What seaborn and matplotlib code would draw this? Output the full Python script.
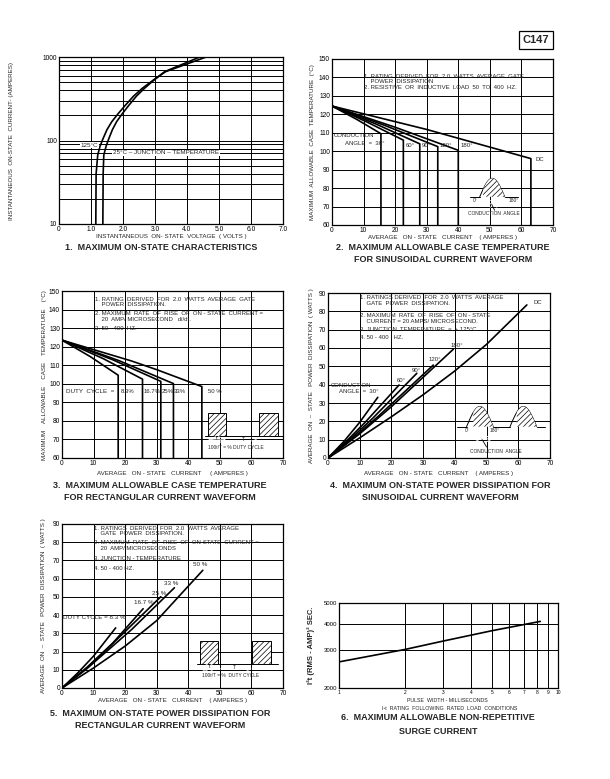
import numpy as np
import pandas as pd
import seaborn as sns
import matplotlib.pyplot as plt
from matplotlib.patches import Rectangle

sns.set_theme(style="white")
plt.rcParams['font.family'] = ['Liberation Sans', 'DejaVu Sans']
plt.rcParams['hatch.linewidth'] = 0.5

# ---- chart 1: on-state characteristics (volts vs amperes, log) ----
c1_amps = [10, 40, 67, 85, 106, 135, 168, 210, 266, 340, 421, 530, 667, 1000]
c1_v125 = [1.15, 1.16, 1.21, 1.28, 1.38, 1.50, 1.65, 1.85, 2.08, 2.33, 2.60, 2.95, 3.33, 4.60]
c1_v25 = [1.37, 1.38, 1.40, 1.47, 1.56, 1.67, 1.80, 1.98, 2.19, 2.42, 2.67, 2.97, 3.30, 4.40]
c1_minor = [20, 30, 40, 50, 60, 70, 80, 90, 200, 300, 400, 500, 600, 700, 800, 900]

# ---- chart 2: case temp, sinusoidal ----
c2_labels = ['30°', '60°', '90°', '120°', '180°', 'DC']
c2_x = [[0, 8, 15.5, 15.5], [0, 11, 22.6, 22.6], [0, 14, 27.8, 27.8],
        [0, 17, 33.5, 33.5], [0, 20, 40.0, 40.0], [0, 30, 63.0, 63.0]]
c2_t = [[124.5, 117.1, 109.5, 60], [124.5, 115.9, 106.0, 60], [124.5, 114.7, 104.0, 60],
        [124.5, 113.8, 102.5, 60], [124.5, 113.0, 100.5, 60], [124.5, 111.8, 96.0, 60]]

# ---- chart 3: case temp, rectangular ----
c3_labels = ['8.3%', '16.7%', '25%', '33%', '50 %']
c3_x = [[0, 9, 17.8, 17.8], [0, 13, 25.5, 25.5], [0, 16, 31.3, 31.3],
        [0, 18, 35.3, 35.3], [0, 22, 30, 44.3, 44.3]]
c3_t = [[123.5, 114.6, 104.6, 60], [123.5, 113.6, 102.5, 60], [123.5, 113.0, 101.3, 60],
        [123.5, 112.5, 100.1, 60], [123.5, 112.3, 107.6, 98.5, 60]]

# ---- chart 4: power dissipation, sinusoidal ----
c4_x = [[0, 5, 10, 15.7], [0, 6, 12, 22.4], [0, 7, 14, 28.0],
        [0, 8, 16, 33.2], [0, 10, 20, 39.5], [0, 10, 20, 30, 40, 50, 62.7]]
c4_p = [[0, 9, 19.5, 33.1], [0, 9.5, 20, 39.8], [0, 10.3, 21.5, 46.2],
        [0, 11, 23, 50.7], [0, 13.2, 28, 59.3], [0, 11, 22.5, 34.5, 47.5, 62, 83.5]]

# ---- chart 5: power dissipation, rectangular ----
c5_x = [[0, 5, 10, 17.0], [0, 8, 16, 25.7], [0, 8, 20, 31.3],
        [0, 8, 22, 35.6], [0, 10, 20, 30, 44.6]]
c5_p = [[0, 8.3, 17.5, 33.0], [0, 11.5, 24.5, 43.5], [0, 11, 31, 50.1],
        [0, 10.8, 32, 55.0], [0, 11, 23, 37, 64.6]]

# ---- chart 6: I2t vs pulse width ----
c6_ms = [1, 2, 3, 5, 8.3]
c6_i2t = [2650, 3030, 3320, 3710, 4100]

W, H = 610, 779
fig = plt.figure(figsize=(W / 100, H / 100), dpi=100)
fig.patch.set_facecolor('white')


def add_ax(l, t, r, b):
    return fig.add_axes([l / W, 1 - b / H, (r - l) / W, (b - t) / H])


def style(ax):
    ax.grid(True, which='both', color='black', lw=0.7)
    ax.tick_params(which='both', length=0, labelsize=4.8, pad=1.5, colors='black')
    for s in ax.spines.values():
        s.set_color('black')
        s.set_linewidth(0.9)
    ax.set_facecolor('white')


def curve(ax, xs, ys, lw=1.2):
    sns.lineplot(x=xs, y=ys, sort=False, estimator=None, color='black', lw=lw, ax=ax)


def note(ax, x, y, s):
    ax.text(x, y, s, fontsize=4.3, va='top', ha='left', linespacing=1.1, zorder=5)


def title(x, y, s):
    fig.text(x / W, 1 - y / H, s, fontsize=6.5, fontweight='bold', ha='center', va='center')


def ylab(x, y, s):
    fig.text(x / W, 1 - y / H, s, fontsize=4.5, rotation=90, ha='center', va='center')


# chart 1
ax1 = add_ax(59, 57, 283, 224)
ax1.set_yscale('log')
curve(ax1, c1_v125, c1_amps)
curve(ax1, c1_v25, c1_amps)
ax1.set_xlim(0, 7)
ax1.set_ylim(10, 1000)
ax1.set_xticks(range(8))
ax1.set_xticklabels(['0', '1.0', '2.0', '3.0', '4.0', '5.0', '6.0', '7.0'])
ax1.set_yticks([10, 100, 1000])
ax1.set_yticklabels(['10', '100', '1000'])
ax1.set_yticks(c1_minor, minor=True)
ax1.set_yticklabels([], minor=True)
style(ax1)
ax1.set_xlabel('INSTANTANEOUS  ON- STATE  VOLTAGE  ( VOLTS )', fontsize=4.5, labelpad=0.5)
ax1.text(1.22, 88, '125°C', fontsize=4.5, ha='right', va='center',
         bbox=dict(facecolor='white', edgecolor='none', pad=0.6), zorder=5)
ax1.plot([1.45, 4.9], [71, 71], color='black', lw=0.7)
ax1.text(1.69, 71, '25°C – JUNCTION – TEMPERATURE', fontsize=4.5, ha='left', va='center',
         bbox=dict(facecolor='white', edgecolor='none', pad=0.6), zorder=5)
ylab(12, 141, 'INSTANTANEOUS  ON-STATE  CURRENT- (AMPERES)')
title(161, 248, '1.  MAXIMUM ON-STATE CHARACTERISTICS')

# chart 2
ax2 = add_ax(332, 59, 553, 225)
for xs, ts in zip(c2_x, c2_t):
    curve(ax2, xs, ts)
ax2.set_xlim(0, 70)
ax2.set_ylim(60, 150)
ax2.set_xticks(range(0, 71, 10))
ax2.set_yticks(range(60, 151, 10))
style(ax2)
ax2.set_xlabel('AVERAGE   ON - STATE   CURRENT    ( AMPERES )', fontsize=4.5, labelpad=0.5)
note(ax2, 10, 142, '1. RATING  DERIVED  FOR  2.0  WATTS  AVERAGE  GATE\n'
                   '    POWER  DISSIPATION\n'
                   '2. RESISTIVE  OR  INDUCTIVE  LOAD  50  TO  400  HZ.')
ax2.text(0.5, 108.6, 'CONDUCTION', fontsize=4.3, va='center')
ax2.text(4.2, 104.0, 'ANGLE  =  30°', fontsize=4.3, va='center')
for lab, x in zip(c2_labels[1:5], [23.3, 28.4, 34.0, 40.6]):
    ax2.text(x, 103.2, lab, fontsize=4.3, va='center')
ax2.text(64.3, 95.3, 'DC', fontsize=4.3, va='center')
# waveform sketch
th = np.linspace(0, np.pi, 60)
hx = 46.8 + (54.7 - 46.8) * th / np.pi
hy = 75.3 + 10 * np.sin(th)
ax2.plot([43.7, 46.8], [75.3, 75.3], color='black', lw=0.7)
ax2.plot([54.7, 59.0], [75.3, 75.3], color='black', lw=0.7)
ax2.plot(hx, hy, color='black', lw=0.7)
m = hx >= 47.8
ax2.fill_between(hx[m], 75.3, hy[m], facecolor='white', edgecolor='black', hatch='//////', lw=0, zorder=3)
ax2.text(45.3, 73.4, '0°', fontsize=3.5, ha='center', va='center')
ax2.text(57.6, 73.4, '180°', fontsize=3.5, ha='center', va='center')
ax2.annotate('', xy=(47.8, 71.5), xytext=(54.5, 71.5),
             arrowprops=dict(arrowstyle='<->', lw=0.6, shrinkA=0, shrinkB=0))
ax2.plot([50.5, 51.5], [71.5, 68.0], color='black', lw=0.6)
ax2.text(51.4, 66.3, 'CONDUCTION  ANGLE', fontsize=3.5, ha='center', va='center')
ylab(313, 142, 'MAXIMUM  ALLOWABLE  CASE  TEMPERATURE  (°C)')
title(443, 247, '2.  MAXIMUM ALLOWABLE CASE TEMPERATURE')
title(443, 260, 'FOR SINUSOIDAL CURRENT WAVEFORM')

# chart 3
ax3 = add_ax(62, 291, 283, 458)
for xs, ts in zip(c3_x, c3_t):
    curve(ax3, xs, ts)
ax3.set_xlim(0, 70)
ax3.set_ylim(60, 150)
ax3.set_xticks(range(0, 71, 10))
ax3.set_yticks(range(60, 151, 10))
style(ax3)
ax3.set_xlabel('AVERAGE   ON - STATE   CURRENT     ( AMPERES )', fontsize=4.5, labelpad=3)
note(ax3, 10.4, 147, '1. RATING  DERIVED  FOR  2.0  WATTS  AVERAGE  GATE\n    POWER  DISSIPATION.')
note(ax3, 10.4, 139, '2. MAXIMUM  RATE  OF  RISE  OF  ON - STATE  CURRENT =\n    20  AMP/ MICROSECOND   di/dt.')
note(ax3, 10.4, 131, '3. 50 - 400  HZ.')
ax3.text(1.4, 96.1, 'DUTY  CYCLE  =', fontsize=4.5, va='center')
for lab, x in zip(c3_labels, [18.6, 25.8, 31.6, 35.4, 46.4]):
    ax3.text(x, 96.1, lab, fontsize=4.3, va='center')
# pulse sketch
for x0, x1 in [(46.3, 51.9), (62.5, 68.5)]:
    ax3.add_patch(Rectangle((x0, 71.6), x1 - x0, 12.6, facecolor='white', edgecolor='black',
                            hatch='//////', lw=0.7, zorder=3))
ax3.plot([45.3, 46.3], [71.6, 71.6], color='black', lw=0.7)
ax3.plot([51.9, 62.5], [71.6, 71.6], color='black', lw=0.7)
ax3.plot([68.5, 70], [71.6, 71.6], color='black', lw=0.7)
ax3.annotate('', xy=(46.3, 69.8), xytext=(51.9, 69.8),
             arrowprops=dict(arrowstyle='<->', lw=0.5, shrinkA=0, shrinkB=0))
ax3.annotate('', xy=(46.3, 69.2), xytext=(62.5, 69.2),
             arrowprops=dict(arrowstyle='<->', lw=0.5, shrinkA=0, shrinkB=0))
ax3.text(49.1, 70.6, 't', fontsize=3.5, ha='center', va='center')
ax3.text(57.5, 70.2, 'T', fontsize=3.5, ha='center', va='center')
ax3.text(46.3, 65.5, '100t/T = % DUTY CYCLE', fontsize=3.5, va='center')
ylab(45, 375, 'MAXIMUM    ALLOWABLE    CASE    TEMPERATURE    (°C)')
title(160, 485, '3.  MAXIMUM ALLOWABLE CASE TEMPERATURE')
title(160, 497, 'FOR RECTANGULAR CURRENT WAVEFORM')

# chart 4
ax4 = add_ax(328, 293, 550, 458)
for xs, ps in zip(c4_x, c4_p):
    curve(ax4, xs, ps)
ax4.set_xlim(0, 70)
ax4.set_ylim(0, 90)
ax4.set_xticks(range(0, 71, 10))
ax4.set_yticks(range(0, 91, 10))
style(ax4)
ax4.set_xlabel('AVERAGE   ON - STATE   CURRENT    ( AMPERES )', fontsize=4.5, labelpad=3)
note(ax4, 10.1, 88.8, '1. RATINGS DERIVED  FOR  2.0  WATTS  AVERAGE\n    GATE  POWER  DISSIPATION.')
note(ax4, 10.1, 79.0, '2. MAXIMUM  RATE  OF  RISE  OF  ON - STATE\n    CURRENT = 20 AMPS/ MICROSECOND.')
note(ax4, 10.1, 71.6, '3. JUNCTION  TEMPERATURE  =  + 125°C.')
note(ax4, 10.1, 67.0, '4. 50 - 400   HZ.')
ax4.text(64.7, 84.9, 'DC', fontsize=4.3, va='center')
for lab, x, y in zip(['180°', '120°', '90°', '60°'], [38.5, 31.6, 26.4, 21.7], [61.6, 53.5, 48.0, 42.5]):
    ax4.text(x, y, lab, fontsize=4.3, va='center')
ax4.text(1.0, 39.8, 'CONDUCTION', fontsize=4.3, va='center')
ax4.text(3.6, 36.2, 'ANGLE  =  30°', fontsize=4.3, va='center')
# waveform sketch
for x0, x1 in [(43.7, 52.1), (57.4, 65.8)]:
    hx = x0 + (x1 - x0) * th / np.pi
    hy = 17.1 + 11 * np.sin(th)
    ax4.plot(hx, hy, color='black', lw=0.7)
    m = hx >= x0 + 0.25 * (x1 - x0)
    ax4.fill_between(hx[m], 17.1, hy[m], facecolor='white', edgecolor='black', hatch='//////', lw=0, zorder=3)
ax4.plot([40.6, 43.7], [17.1, 17.1], color='black', lw=0.7)
ax4.plot([52.1, 57.4], [17.1, 17.1], color='black', lw=0.7)
ax4.plot([65.8, 68.4], [17.1, 17.1], color='black', lw=0.7)
ax4.text(43.7, 14.9, '0°', fontsize=3.5, ha='center', va='center')
ax4.text(52.7, 14.9, '180°', fontsize=3.5, ha='center', va='center')
ax4.annotate('', xy=(45.8, 10.4), xytext=(52.1, 10.4),
             arrowprops=dict(arrowstyle='<->', lw=0.6, shrinkA=0, shrinkB=0))
ax4.plot([48.5, 50.0], [10.4, 6.0], color='black', lw=0.6)
ax4.text(53.0, 3.8, 'CONDUCTION  ANGLE', fontsize=3.5, ha='center', va='center')
ylab(312, 376, 'AVERAGE  ON  –  STATE   POWER  DISSIPATION  ( WATTS )')
title(440, 486, '4.  MAXIMUM ON-STATE POWER DISSIPATION FOR')
title(440, 497, 'SINUSOIDAL CURRENT WAVEFORM')

# chart 5
ax5 = add_ax(62, 524, 283, 688)
for xs, ps in zip(c5_x, c5_p):
    curve(ax5, xs, ps)
ax5.set_xlim(0, 70)
ax5.set_ylim(0, 90)
ax5.set_xticks(range(0, 71, 10))
ax5.set_yticks(range(0, 91, 10))
style(ax5)
ax5.set_xlabel('AVERAGE   ON - STATE   CURRENT    ( AMPERES )', fontsize=4.5, labelpad=0.5)
note(ax5, 10, 89.0, '1. RATINGS  DERIVED  FOR  2.0  WATTS  AVERAGE\n    GATE  POWER  DISSIPATION.')
note(ax5, 10, 81.0, '2. MAXIMUM  RATE  OF  RISE  OF  ON-STATE  CURRENT =\n    20  AMP/ MICROSECONDS')
note(ax5, 10, 72.4, '3. JUNCTION - TEMPERATURE')
note(ax5, 10, 66.9, '4. 50 - 400 HZ.')
ax5.text(0.2, 38.9, 'DUTY CYCLE = 8.3 %', fontsize=4.5, va='center')
for lab, x, y in zip(['16.7 %', '25 %', '33 %', '50 %'], [22.7, 28.5, 32.2, 41.6], [47.1, 51.8, 57.5, 67.5]):
    ax5.text(x, y, lab, fontsize=4.5, va='center')
for x0, x1 in [(43.7, 49.5), (60.1, 66.1)]:
    ax5.add_patch(Rectangle((x0, 13.1), x1 - x0, 12.8, facecolor='white', edgecolor='black',
                            hatch='//////', lw=0.7, zorder=3))
ax5.plot([42.8, 43.7], [13.1, 13.1], color='black', lw=0.7)
ax5.plot([49.5, 60.1], [13.1, 13.1], color='black', lw=0.7)
ax5.plot([66.1, 68.5], [13.1, 13.1], color='black', lw=0.7)
ax5.annotate('', xy=(43.7, 11.2), xytext=(49.5, 11.2),
             arrowprops=dict(arrowstyle='<->', lw=0.5, shrinkA=0, shrinkB=0))
ax5.annotate('', xy=(43.7, 10.5), xytext=(60.1, 10.5),
             arrowprops=dict(arrowstyle='<->', lw=0.5, shrinkA=0, shrinkB=0))
ax5.text(46.6, 12.0, 't', fontsize=3.5, ha='center', va='center')
ax5.text(54.5, 11.5, 'T', fontsize=3.5, ha='center', va='center')
ax5.text(44.5, 7.0, '100t/T = %  DUTY CYCLE', fontsize=3.5, va='center')
ylab(44, 606, 'AVERAGE  ON  –  STATE   POWER  DISSIPATION  ( WATTS )')
title(160, 713, '5.  MAXIMUM ON-STATE POWER DISSIPATION FOR')
title(160, 725, 'RECTANGULAR CURRENT WAVEFORM')

# chart 6
ax6 = add_ax(339, 603, 558, 688)
curve(ax6, c6_ms, c6_i2t)
ax6.set_xscale('log')
ax6.set_yscale('log')
ax6.set_xlim(1, 10)
ax6.set_ylim(2000, 5000)
ax6.set_xticks(range(1, 11))
ax6.set_xticklabels([str(v) for v in range(1, 11)])
ax6.set_xticks([], minor=True)
ax6.set_yticks([2000, 3000, 4000, 5000])
ax6.set_yticklabels(['2000', '3000', '4000', '5000'])
ax6.set_yticks([], minor=True)
style(ax6)
ax6.tick_params(axis='x', labelsize=3.5)
ax6.tick_params(axis='y', labelsize=4.3)
fig.text(447 / W, 1 - 700 / H, 'PULSE  WIDTH - MILLISECONDS', fontsize=3.8, ha='center', va='center')
fig.text(450 / W, 1 - 709 / H, 'I²t  RATING  FOLLOWING  RATED  LOAD  CONDITIONS', fontsize=3.8, ha='center', va='center')
fig.text(311 / W, 1 - 645 / H, 'I²t (RMS - AMP)² SEC.', fontsize=5.5, fontweight='bold',
         rotation=90, ha='center', va='center')
title(438, 718, '6.  MAXIMUM ALLOWABLE NON-REPETITIVE')
title(438, 731, 'SURGE CURRENT')

fig.text(536 / W, 1 - 40 / H, 'C147', fontsize=8, fontweight='bold', ha='center', va='center',
         bbox=dict(boxstyle='square,pad=0.35', facecolor='white', edgecolor='black', lw=0.9))

fig.savefig('out.png', dpi=100, facecolor='white')
